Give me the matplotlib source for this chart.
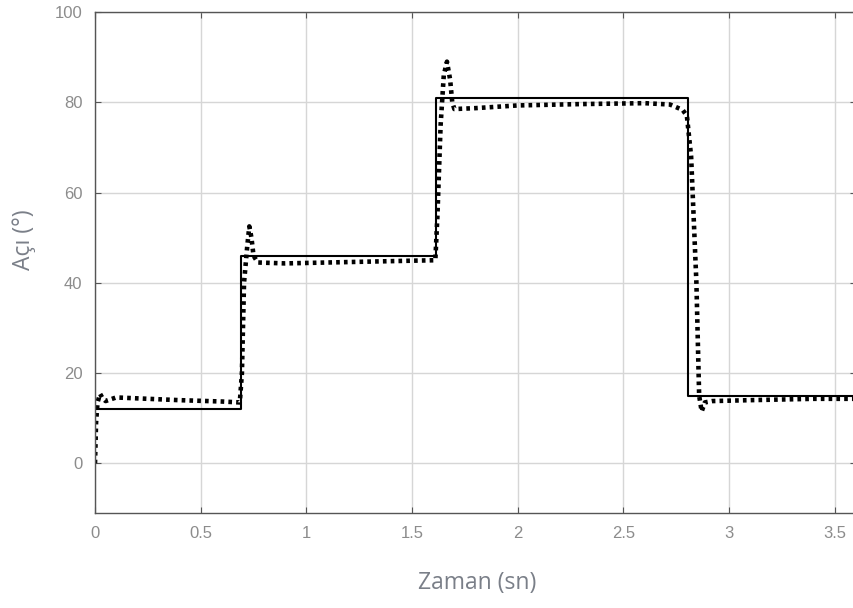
import matplotlib
matplotlib.use("Agg")
import matplotlib.pyplot as plt

# reference (commanded) angle, step changes
ref_t = [0.0, 0.69, 1.615, 2.805, 3.6]
ref_angle = [12, 46, 81, 15, 15]

resp_t = [0.0, 0.005, 0.012, 0.024, 0.035, 0.05, 0.1, 0.2, 0.4, 0.6, 0.685,
          0.695, 0.705, 0.72, 0.73, 0.74, 0.75, 0.77, 0.9, 1.2, 1.5, 1.61,
          1.62, 1.635, 1.65, 1.665, 1.68, 1.69, 1.70, 1.8, 2.0, 2.3, 2.6,
          2.72, 2.78, 2.80, 2.82, 2.845, 2.858, 2.87, 2.885, 2.92, 3.1, 3.4, 3.6]
resp_angle = [0, 9, 13.5, 15.4, 14.5, 13.8, 14.6, 14.4, 14.0, 13.7, 13.5,
              20, 40, 48, 52.5, 50, 46, 44.5, 44.3, 44.6, 44.9, 45,
              55, 75, 86, 89, 85, 80, 78.5, 78.7, 79.3, 79.6, 79.8,
              79.5, 78.3, 77, 68, 40, 15, 11.5, 13.5, 13.8, 14.0, 14.3, 14.3]

xticks = [0, 0.5, 1, 1.5, 2, 2.5, 3, 3.5]
xtick_labels = ["0", "0.5", "1", "1.5", "2", "2.5", "3", "3.5"]
yticks = [0, 20, 40, 60, 80, 100]

W, H = 854, 608
fig = plt.figure(figsize=(W / 100, H / 100), dpi=100)
ax = fig.add_axes([95 / W, (H - 513) / H, (856 - 95) / W, (513 - 12) / H])

ax.plot(ref_t, ref_angle, color="black", linewidth=1.5, drawstyle="steps-post")
ax.plot(resp_t, resp_angle, color="black", linewidth=3.3, linestyle=(0, (0.8, 0.9)),
        dash_capstyle="butt")

ax.set_xlim(0, 3.6)
ax.set_ylim(-11, 100)
ax.set_xticks(xticks)
ax.set_xticklabels(xtick_labels)
ax.set_yticks(yticks)

ax.grid(True, color="#d6d6d6", linewidth=1)
ax.set_axisbelow(True)
ax.tick_params(direction="in", length=4, width=0.8, colors="#555555",
               labelcolor="#8c8c8c", labelsize=12, top=True, right=True,
               pad=9)
for lbl in ax.get_xticklabels() + ax.get_yticklabels():
    lbl.set_fontfamily("Liberation Sans")
for sp in ax.spines.values():
    sp.set_color("#555555")
    sp.set_linewidth(1)

ax.set_xlabel("Zaman (sn)", fontsize=16.5, color="#7a7f88", family="Open Sans")
ax.xaxis.set_label_coords((477 - 95) / (856 - 95), -(583 - 513) / (513 - 12))
ax.set_ylabel("Açı (°)", fontsize=16.5, color="#7a7f88", family="Open Sans")
ax.yaxis.set_label_coords(-(95 - 24) / (856 - 95), (513 - 240) / (513 - 12))
ax.yaxis.label.set_va("center")
ax.xaxis.label.set_va("center")

fig.savefig("out.png", dpi=100)
